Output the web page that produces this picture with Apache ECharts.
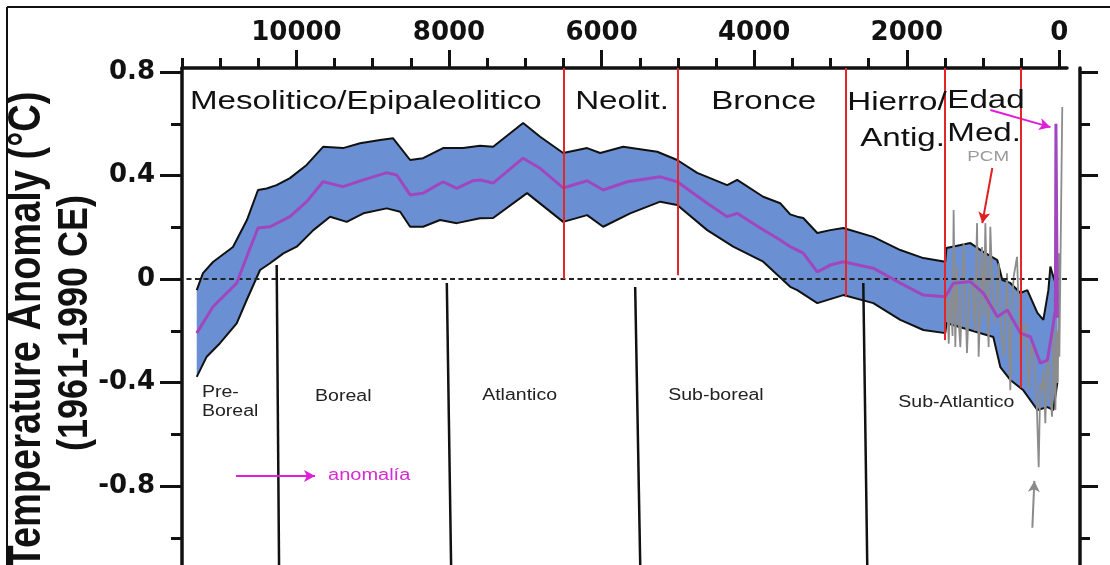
<!DOCTYPE html>
<html><head><meta charset="utf-8">
<script src="https://cdn.jsdelivr.net/npm/echarts@6/dist/echarts.min.js"></script>
<style>html,body{margin:0;padding:0;background:#fff}#c{width:1110px;height:565px}</style>
</head><body><div id="c"></div>
<script>
// ---------- data ----------
const xTicks = [10000, 8000, 6000, 4000, 2000, 0];
const xMinorTicks = [11500, 11000, 10500, 9500, 9000, 8500, 7500, 7000, 6500, 5500, 5000, 4500, 3500, 3000, 2500, 1500, 1000, 500];
const yTicks = [-0.8, -0.4, 0, 0.4, 0.8];
const yMinorTicks = [-1.0, -0.6, -0.2, 0.2, 0.6];

const bandUpper = [[11307,-0.043],[11225,0.023],[11094,0.066],[10832,0.124],[10649,0.228],[10504,0.344],[10390,0.350],[10260,0.363],[10085,0.390],[9866,0.441],[9651,0.511],[9389,0.506],[9166,0.525],[8904,0.537],[8733,0.544],[8510,0.46],[8340,0.467],[8078,0.506],[7816,0.506],[7593,0.515],[7422,0.511],[7029,0.603],[6806,0.55],[6504,0.487],[6190,0.506],[6019,0.487],[5717,0.511],[5271,0.492],[5009,0.46],[4747,0.41],[4354,0.363],[4223,0.383],[3882,0.318],[3659,0.293],[3528,0.25],[3436,0.241],[3357,0.236],[3173,0.178],[3003,0.189],[2832,0.197],[2439,0.163],[2085,0.112],[1783,0.081],[1495,0.067],[1480,0.12],[1167,0.139],[997,0.105],[813,0.073],[748,-0.004],[643,-0.015],[511,-0.054],[420,-0.043],[288,-0.131],[210,-0.158],[144,-0.043],[118,0.048],[79,0.009],[26,-0.035]];
const bandLower = [[11307,-0.378],[11176,-0.30],[11002,-0.248],[10783,-0.171],[10652,-0.081],[10477,0.035],[10346,0.061],[10171,0.099],[9996,0.125],[9778,0.189],[9559,0.241],[9341,0.221],[9122,0.254],[8816,0.273],[8641,0.26],[8510,0.202],[8340,0.202],[8117,0.228],[7898,0.216],[7593,0.235],[7422,0.236],[6977,0.332],[6504,0.221],[6190,0.247],[5980,0.202],[5626,0.254],[5232,0.299],[5009,0.286],[4616,0.189],[4275,0.125],[3882,0.067],[3528,-0.03],[3436,-0.043],[3173,-0.093],[2832,-0.062],[2439,-0.093],[2085,-0.158],[1783,-0.197],[1495,-0.209],[1480,-0.17],[1298,-0.186],[866,-0.224],[774,-0.34],[643,-0.39],[472,-0.43],[288,-0.506],[157,-0.495],[79,-0.506],[26,-0.40]];
const meanAnomaly = [[11307,-0.209],[11094,-0.107],[10783,-0.016],[10652,0.086],[10504,0.197],[10346,0.202],[10085,0.241],[9866,0.299],[9651,0.376],[9389,0.357],[9122,0.383],[8816,0.411],[8685,0.402],[8510,0.325],[8340,0.332],[8078,0.376],[7898,0.350],[7685,0.38],[7593,0.383],[7422,0.371],[7029,0.467],[6806,0.428],[6504,0.352],[6190,0.38],[5980,0.344],[5665,0.376],[5232,0.395],[5009,0.376],[4616,0.293],[4354,0.241],[4223,0.254],[3921,0.197],[3659,0.151],[3528,0.125],[3357,0.10],[3173,0.028],[3003,0.054],[2832,0.067],[2439,0.042],[2085,-0.016],[1783,-0.062],[1495,-0.068],[1390,-0.016],[1167,-0.01],[997,-0.054],[813,-0.146],[682,-0.12],[511,-0.209],[380,-0.223],[249,-0.325],[157,-0.313],[92,-0.197],[52,-0.12],[45,0.60],[30,0.60],[26,-0.15]];
const pcmSeries = [[1500,-0.12],[1473,-0.07],[1450,-0.25],[1429,-0.05],[1400,-0.22],[1386,0.267],[1364,-0.263],[1340,0.05],[1320,-0.16],[1298,-0.263],[1275,-0.05],[1255,0.139],[1230,-0.1],[1211,-0.286],[1180,-0.05],[1145,0.008],[1110,-0.2],[1079,0.216],[1058,-0.30],[1036,-0.1],[1014,0.124],[990,-0.15],[970,0.216],[950,-0.05],[927,-0.263],[905,0.202],[870,-0.1],[839,-0.171],[796,0.061],[760,-0.2],[730,-0.30],[686,0.022],[665,-0.2],[643,-0.43],[620,-0.1],[599,0.009],[555,0.086],[530,-0.15],[511,-0.325],[480,-0.2],[446,-0.171],[420,-0.3],[402,-0.43],[370,-0.25],[337,-0.30],[300,-0.45],[271,-0.727],[250,-0.4],[227,-0.43],[205,-0.35],[184,-0.557],[160,-0.3],[140,-0.325],[118,-0.45],[96,-0.532],[75,-0.171],[60,-0.35],[52,-0.506],[35,-0.2],[20,-0.4],[5,0.1],[0,-0.3],[-38,0.665]];

const periodBoundaries = [6500, 5000, 2800, 1500, 500];
const periodBoundaryEnds = [0.0, 0.015, -0.068, -0.236, -0.42];
const zoneBoundaryTop = [[10259,0.054],[8029,-0.015],[5560,-0.031],[2570,-0.015]];
const zoneBoundaryBottomYears = [10228, 7973, 5494, 2518];

const periodNames = ['Mesolitico/Epipaleolitico','Neolit.','Bronce','Hierro/','Antig.','Edad','Med.'];
const periodAnchors = [[11395,0.685],[6347,0.687],[4563,0.687],[2780,0.683],[2610,0.544],[1469,0.691],[1469,0.56]];
const zoneNames = ['Pre-','Boreal','Boreal','Atlantico','Sub-boreal','Sub-Atlantico'];
const zoneAnchors = [[11238,-0.44],[11238,-0.514],[9756,-0.456],[7566,-0.452],[5127,-0.452],[2111,-0.479]];
const noteNames = ['anomalía','PCM'];
const noteAnchors = [[9586,-0.761],[1206,0.471]];
const arrowNotes = [
  {from:[10792,-0.761], to:[9756,-0.761], color:'#e01ed8'},
  {from:[905,0.653], to:[118,0.587], color:'#e01ed8'},
  {from:[879,0.429], to:[1010,0.216], color:'#e02020'},
  {from:[354,-0.961], to:[328,-0.78], color:'#8a8a8a'}
];

const Y_MIN = -1.105, Y_MAX = 0.8155;
const X_MIN = -100, X_MAX = 11500;

// ---------- chart ----------
const chart = echarts.init(document.getElementById('c'), null, {renderer:'canvas'});
const tickFont = {fontFamily:'DejaVu Sans', fontWeight:'bold', fontSize:26, color:'#111'};

function textSeries(names, anchors, font, color, sx){
  return {
    type:'custom', xAxisIndex:0, yAxisIndex:0, silent:true, z:20,
    data: anchors,
    renderItem:(params, api)=>{
      const c = api.coord([api.value(0), api.value(1)]);
      return {type:'text', x:c[0], y:c[1], scaleX:sx,
        style:{text:names[params.dataIndex], font:font, fill:color, align:'left', verticalAlign:'middle'}};
    }
  };
}

const option = {
  animation:false,
  backgroundColor:'#fff',
  grid:{left:182, top:68, right:43, bottom:0, containLabel:false},
  xAxis:[
    {type:'value', position:'top', inverse:true, min:X_MIN, max:X_MAX,
     axisLine:{onZero:false, lineStyle:{color:'#111', width:3.5}},
     axisTick:{show:true, length:18, lineStyle:{color:'#111', width:3}, customValues:xTicks},
     axisLabel:{show:true, customValues:xTicks, margin:22, ...tickFont, formatter:v=>String(v)},
     splitLine:{show:false}},
    {type:'value', position:'top', inverse:true, min:X_MIN, max:X_MAX,
     axisLine:{show:false, onZero:false},
     axisTick:{show:true, length:10, lineStyle:{color:'#111', width:3}, customValues:xMinorTicks},
     axisLabel:{show:false}, splitLine:{show:false}}
  ],
  yAxis:[
    {type:'value', position:'left', min:Y_MIN, max:Y_MAX,
     axisLine:{show:true, onZero:false, lineStyle:{color:'#111', width:3.5}},
     axisTick:{show:true, length:22, lineStyle:{color:'#111', width:3}, customValues:yTicks},
     axisLabel:{show:true, customValues:yTicks, margin:27, ...tickFont, formatter:v=> v===0 ? '0' : v.toFixed(1)},
     splitLine:{show:false}},
    {type:'value', position:'left', min:Y_MIN, max:Y_MAX,
     axisLine:{show:false, onZero:false},
     axisTick:{show:true, length:11, lineStyle:{color:'#111', width:3}, customValues:yMinorTicks},
     axisLabel:{show:false}, splitLine:{show:false}},
    {type:'value', position:'right', offset:13, min:Y_MIN, max:Y_MAX,
     axisLine:{show:true, onZero:false, lineStyle:{color:'#111', width:3.5}},
     axisTick:{show:true, length:18, lineStyle:{color:'#111', width:3}, customValues:yTicks},
     axisLabel:{show:false}, splitLine:{show:false}},
    {type:'value', position:'right', offset:13, min:Y_MIN, max:Y_MAX,
     axisLine:{show:false, onZero:false},
     axisTick:{show:true, length:10, lineStyle:{color:'#111', width:3}, customValues:yMinorTicks},
     axisLabel:{show:false}, splitLine:{show:false}}
  ],
  graphic:[
    {type:'line', shape:{x1:7, y1:7, x2:1110, y2:7}, style:{stroke:'#111', lineWidth:2}},
    {type:'line', shape:{x1:7, y1:7, x2:7, y2:565}, style:{stroke:'#111', lineWidth:2}},
    {type:'text', x:27, y:330, rotation:Math.PI/2, scaleY:1.2,
     style:{text:'Temperature Anomaly (°C)', font:'bold 38px "Liberation Sans"', fill:'#111', align:'center', verticalAlign:'middle'}},
    {type:'text', x:75, y:323, rotation:Math.PI/2, scaleY:1.2,
     style:{text:'(1961-1990 CE)', font:'bold 36px "Liberation Sans"', fill:'#111', align:'center', verticalAlign:'middle'}}
  ],
  series:[
    {type:'custom', name:'band', xAxisIndex:0, yAxisIndex:0, silent:true, z:1,
     data:[[0,0]],
     renderItem:(params, api)=>{
       const pts = bandUpper.map(p=>api.coord(p)).concat(bandLower.slice().reverse().map(p=>api.coord(p)));
       return {type:'polygon', shape:{points:pts}, style:{fill:'#6b8fd3'}};
     }},
    {type:'line', name:'upper', xAxisIndex:0, yAxisIndex:0, data:bandUpper, showSymbol:false, symbol:'none', z:3,
     lineStyle:{color:'#111', width:2}, silent:true},
    {type:'line', name:'lower', xAxisIndex:0, yAxisIndex:0, data:bandLower, showSymbol:false, symbol:'none', z:3,
     lineStyle:{color:'#111', width:2}, silent:true,
     markLine:{silent:true, symbol:['none','none'], label:{show:false},
       lineStyle:{color:'#222', type:[5,3.5], width:2.2},
       data:[{yAxis:0}]}},
    {type:'line', name:'PCM', xAxisIndex:0, yAxisIndex:0, data:pcmSeries, showSymbol:false, symbol:'none', z:4,
     lineStyle:{color:'#8c8c8c', width:1.8}, silent:true},
    {type:'line', name:'mean', xAxisIndex:0, yAxisIndex:0, data:meanAnomaly, showSymbol:false, symbol:'none', z:5,
     lineStyle:{color:'#a047bf', width:3}, silent:true,
     markLine:{silent:true, symbol:['none','none'], label:{show:false}, z:6,
       lineStyle:{color:'#e3262a', width:2, type:'solid'},
       data: periodBoundaries.map((yr,i)=>[{coord:[yr, Y_MAX]},{coord:[yr, periodBoundaryEnds[i]]}])}},
    {type:'line', name:'zones', xAxisIndex:0, yAxisIndex:0, data:[], z:6, silent:true,
     markLine:{silent:true, symbol:['none','none'], label:{show:false},
       lineStyle:{color:'#111', width:2.5, type:'solid'},
       data: zoneBoundaryTop.map((p,i)=>[{coord:p},{coord:[zoneBoundaryBottomYears[i], Y_MIN]}])}},
    {type:'line', name:'arrows', xAxisIndex:0, yAxisIndex:0, data:[], z:7, silent:true,
     markLine:{silent:true, symbol:['none','arrow'], symbolSize:[9,11], label:{show:false},
       data: arrowNotes.map(a=>[{coord:a.from, lineStyle:{color:a.color, width:2, type:'solid'}},{coord:a.to}])}},
    textSeries(periodNames, periodAnchors, '26.5px "Liberation Sans"', '#111', 1.25),
    textSeries(zoneNames, zoneAnchors, '16px "Liberation Sans"', '#222', 1.22),
    textSeries(noteNames.slice(0,1), noteAnchors.slice(0,1), '16px "Liberation Sans"', '#d52bd0', 1.25),
    textSeries(noteNames.slice(1), noteAnchors.slice(1), '15px "Liberation Sans"', '#9a9a9a', 1.25)
  ]
};
chart.setOption(option);
</script>
</body></html>
